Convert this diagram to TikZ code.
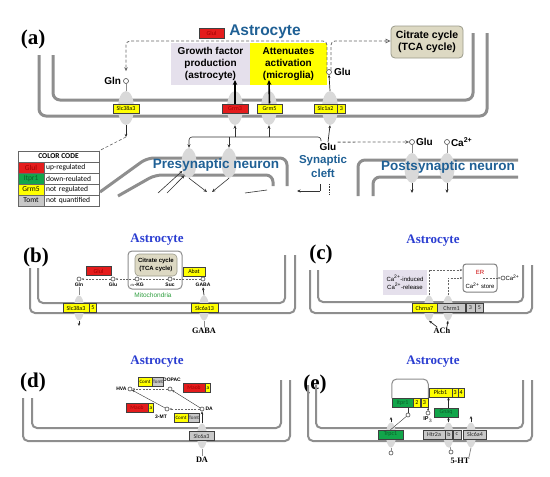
\documentclass[tikz,border=0pt]{standalone}
\usepackage{fontspec}
\setmainfont{Liberation Serif}
\newfontfamily\arialf{Liberation Sans}
\newfontfamily\calib{Carlito}
\usetikzlibrary{shapes.geometric, arrows.meta, positioning, calc}

\definecolor{memgray}{HTML}{8E8E8E}
\definecolor{chgray}{HTML}{D9D9D9}
\definecolor{gred}{HTML}{E41C1C}
\definecolor{gredtxt}{HTML}{9E0000}
\definecolor{ggreen}{HTML}{12A54A}
\definecolor{ggreentxt}{HTML}{0B5E2A}
\definecolor{gyellow}{HTML}{FFFF00}
\definecolor{ggray}{HTML}{C8C8C8}
\definecolor{lavender}{HTML}{E5E0EC}
\definecolor{beige}{HTML}{DDD9C3}
\definecolor{beigeline}{HTML}{9A9A8A}
\definecolor{cellblue}{HTML}{1F6095}
\definecolor{astroblue}{HTML}{2A3DD1}
\definecolor{mitogreen}{HTML}{2E9E3E}

\newcommand{\fsz}[2]{\fontsize{#1}{#2}\selectfont}

\begin{document}
\begin{tikzpicture}[
    x=1pt, y=-1pt,
    memA/.style={draw=memgray, line width=3pt, rounded corners=7pt},
    memB/.style={draw=memgray, line width=2pt, rounded corners=5pt},
    chanA/.style={ellipse, fill=chgray, minimum width=16pt, minimum height=34pt, inner sep=0pt},
    chanP/.style={ellipse, fill=chgray, minimum width=15pt, minimum height=30pt, inner sep=0pt},
    chanB/.style={ellipse, fill=chgray, minimum width=10pt, minimum height=25pt, inner sep=0pt},
    gene/.style={rectangle, draw=black!75, line width=0.5pt, inner sep=0pt, minimum height=9pt, font=\calib\fsz{6}{6}},
    gup/.style={gene, fill=gred, text=gredtxt},
    gdn/.style={gene, fill=ggreen, text=ggreentxt},
    gno/.style={gene, fill=gyellow, text=black},
    gnq/.style={gene, fill=ggray, text=black!85},
    met/.style={circle, draw=black!70, fill=white, line width=0.6pt, inner sep=0pt, minimum size=5pt},
    lblA/.style={font=\arialf\bfseries\fsz{10}{10}, inner sep=1pt},
    mlab/.style={font=\arialf\bfseries\fsz{5}{5}, inner sep=0.5pt},
    small/.style={font=\arialf\fsz{6}{7}, align=center, inner sep=0pt},
    fbox/.style={rectangle, align=center, inner sep=0pt, font=\arialf\bfseries\fsz{10}{12}},
    tcabox/.style={rectangle, rounded corners=4pt, draw=beigeline, fill=beige, line width=0.8pt, align=center, inner sep=0pt},
    plab/.style={font=\bfseries\fsz{21}{21}, inner sep=0pt},
    astro/.style={font=\bfseries\fsz{13}{13}, text=astroblue, inner sep=0pt},
    cell/.style={font=\arialf\bfseries\fsz{13.5}{13.5}, text=cellblue, inner sep=0pt},
    nt/.style={font=\bfseries\fsz{8.3}{8.3}, inner sep=1pt},
    cc/.style={rectangle, draw=black!60, line width=0.6pt, minimum height=11pt, inner sep=0pt, font=\calib\fsz{7.5}{7.5}},
    thkarr/.style={-{Stealth[length=5pt, width=4.5pt]}, line width=1.6pt, black},
    sarr/.style={-{Stealth[length=3pt, width=2.5pt]}, line width=0.7pt, black!85},
    tarr/.style={-{Stealth[length=3.5pt, width=3pt]}, line width=0.6pt, black!80},
    tline/.style={line width=0.6pt, black!80},
    gline/.style={line width=0.8pt, black!45},
    dashA/.style={dashed, dash pattern=on 3pt off 2pt, draw=black!60, line width=0.8pt, rounded corners=4pt, -{Stealth[length=4pt, width=3.5pt]}},
    dashB/.style={dashed, dash pattern=on 2pt off 1.3pt, draw=black!60, line width=0.5pt, -{Stealth[length=2.5pt, width=2pt]}}
]
\useasboundingbox (0,0) rectangle (550,477);

% ================= (a) =================
\node[plab] (lab_a) at (33,39) {(a)};
\draw[memA] (39,55) -- (39,116) -- (487,116) -- (487,33);
\draw[memA] (53,55) -- (53,100) -- (473,100) -- (473,33);
\node[chanA] (ch_gln) at (126,108) {};
\node[chanA] (ch_grm3) at (235,108) {};
\node[chanA] (ch_grm5) at (269,108) {};
\node[chanA] (ch_glt) at (330,108) {};
\node[gno, minimum width=26pt, minimum height=9.5pt] (slc38a3) at (126,108.5) {Slc38a3};
\node[gup, minimum width=26pt, minimum height=9.5pt] (grm3) at (235,108.5) {Grm3};
\node[gno, minimum width=25pt, minimum height=9.5pt] (grm5) at (269.5,108.5) {Grm5};
\node[gno, minimum width=23pt, minimum height=9.5pt] (slc1a2) at (325.5,108.5) {Slc1a2};
\node[gno, minimum width=8pt, minimum height=9.5pt, right=0pt of slc1a2] (slc1a2b) {3};

\node[gup, minimum width=25pt, minimum height=10pt] (glul_a) at (211.5,33) {Glul};
\node[font=\arialf\bfseries\fsz{15.5}{15.5}, text=cellblue, inner sep=0pt] (astro_a) at (265,32) {Astrocyte};
\node[fbox, fill=lavender, minimum width=79pt, minimum height=42pt] (growth) at (210.5,64) {Growth factor\\production\\(astrocyte)};
\node[fbox, fill=gyellow, minimum width=77pt, minimum height=42pt] (atten) at (288.5,64) {Attenuates\\activation\\(microglia)};
\node[tcabox, font=\arialf\bfseries\fsz{10.5}{12.5}, minimum width=72pt, minimum height=32pt] (tca_a) at (427,42) {Citrate cycle\\(TCA cycle)};

\node[met] (gln_a) at (126,81) {};
\node[lblA, left=1pt of gln_a] (gln_a_l) {Gln};
\node[met] (glu_a) at (329,72) {};
\node[lblA, right=1pt of glu_a] (glu_a_l) {Glu};
\coordinate (dtop) at (0,41);
\draw[dashA, shorten >=7pt] (glu_a.north west) -- (glu_a.north west |- dtop) -- (gln_a |- dtop) -- (gln_a.north);
\draw[dashA, -{Triangle[open, length=5pt, width=4.5pt]}] (glu_a.north east) -- (glu_a.north east |- dtop) -- (tca_a.west |- dtop);

\coordinate (gf_in) at (235,80);
\coordinate (at_in) at (269,80);
\draw[thkarr] (grm3.north) -- (gf_in);
\draw[thkarr] (grm5.north) -- (at_in);
\draw[gline] (gln_a.south) -- (ch_gln.north);
\draw[sarr] (ch_glt.north) -- (glu_a.south);

% below the astrocyte
\coordinate (gln_out) at (126,137);
\draw[sarr] (ch_gln.south) -- (gln_out);

% colour code
\node[cc, minimum width=81pt, font=\calib\bfseries\fsz{7.5}{7.5}] (cc_head) at (58.5,156.5) {COLOR CODE};
\node[cc, fill=gred, text=gredtxt, minimum width=26pt] (cc_g1) at (31,167.5) {Glul};
\node[cc, minimum width=55pt, right=0pt of cc_g1, inner xsep=1.5pt, align=left, text width=52pt] (cc_t1) {up-regulated};
\node[cc, fill=ggreen, text=ggreentxt, minimum width=26pt] (cc_g2) at (31,178.5) {Itpr1};
\node[cc, minimum width=55pt, right=0pt of cc_g2, inner xsep=1.5pt, align=left, text width=52pt] (cc_t2) {down-reulated};
\node[cc, fill=gyellow, minimum width=26pt] (cc_g3) at (31,189.5) {Grm5};
\node[cc, minimum width=55pt, right=0pt of cc_g3, inner xsep=1.5pt, align=left, text width=52pt] (cc_t3) {not regulated};
\node[cc, fill=ggray, minimum width=26pt] (cc_g4) at (31,200.5) {Tomt};
\node[cc, minimum width=55pt, right=0pt of cc_g4, inner xsep=1.5pt, align=left, text width=52pt] (cc_t4) {not quantified};
\draw[tline, densely dashed, black!60] (gln_out) -- (cc_head.north east);

% presynaptic neuron
\draw[memA] (100,192) -- (147,158) -- (287,158) -- (287,186);
\draw[memA] (118,196) -- (155,175) -- (273,175) -- (273,186);
\node[chanP] (ch_pre1) at (189,163) {};
\node[chanP] (ch_pre2) at (229,163) {};
\node[cell] (pre) at (216,165) {Presynaptic neuron};

\node[lblA] (glu_s) at (328,147) {Glu};
\node[font=\arialf\bfseries\fsz{11.5}{14}, text=cellblue, align=center, inner sep=0pt] (cleft) at (323,166.5) {Synaptic\\cleft};
\draw[sarr] (glu_s.north) -- (ch_glt.south);
\coordinate (br1) at (321,141);
\coordinate (br) at (0,137);
\coordinate (br2) at (229,137);
\coordinate (br3) at (235,137);
\coordinate (br4) at (269,137);
\draw[tarr, rounded corners=3pt] (br1) |- (ch_pre1.north |- br) -- (ch_pre1.north);
\draw[tarr] (br2) -- (ch_pre2.north);
\draw[tarr] (br3) -- (ch_grm3.south);
\draw[tarr] (br4) -- (ch_grm5.south);

\coordinate (pre_o1) at (207,192);
\coordinate (pre_o2) at (212,192);
\draw[tarr] (ch_pre1.south) -- (pre_o1);
\draw[tarr] (ch_pre2.south) -- (pre_o2);
\coordinate (in1) at (158,193);
\coordinate (in2) at (167,193);
\draw[tarr] (in1) -- (ch_pre1.-130);
\draw[tarr] (in2) -- (ch_pre1.-110);
\coordinate (pre_s1) at (245,193);
\coordinate (pre_s2) at (267,190);
\draw[tline] (pre_s1) -- (pre_s2);
\coordinate (cl_a) at (320,191);
\coordinate (cl_b) at (297,191);
\coordinate (cl_c) at (320,184);
\coordinate (cl_d) at (329,184);
\coordinate (cl_e) at (329,195);
\draw[tarr] (cl_a) -- (cl_b);
\draw[tline] (cl_a) -- (cl_c);
\draw[tline, densely dotted] (cl_d) -- (cl_e);

% postsynaptic neuron
\draw[memA] (358,196) -- (358,160) -- (518,160);
\draw[memA] (373,196) -- (373,177) -- (518,177);
\node[chanP] (ch_post1) at (412,168) {};
\node[chanP] (ch_post2) at (447,168) {};
\node[cell] (post) at (448,167) {Postsynaptic neuron};
\node[met] (post_glu) at (412,142) {};
\node[lblA, right=0pt of post_glu] (post_glu_l) {Glu};
\node[met] (post_ca) at (447,142) {};
\node[lblA, right=0pt of post_ca] (post_ca_l) {Ca\textsuperscript{2+}};
\draw[dashA] (glu_s.north east) -- (post_glu.west);
\draw[gline] (post_glu) -- (ch_post1);
\draw[gline] (post_ca) -- (ch_post2);
\coordinate (po1) at (412,193);
\coordinate (po2) at (447,193);
\draw[tarr] (ch_post1.south) -- (po1);
\draw[tarr] (ch_post2.south) -- (po2);

% ================= (b) =================
\node[plab] (lab_b) at (36,257) {(b)};
\node[astro] (astro_b) at (157,240) {Astrocyte};
\draw[memB] (30,268) -- (30,313) -- (295,313) -- (295,255);
\draw[memB] (38,268) -- (38,303) -- (285,303) -- (285,255);
\draw[draw=black!45, line width=1pt, rounded corners=4pt] (128,251) rectangle (182,289);
\node[tcabox, font=\arialf\bfseries\fsz{6}{7.5}, minimum width=42pt, minimum height=22pt, line width=0.6pt] (tca_b) at (156,265) {Citrate cycle\\(TCA cycle)};
\node[font=\arialf\fsz{6.5}{6.5}, text=mitogreen, inner sep=0pt] (mito) at (153,295) {Mitochondria};
\node[gup, minimum width=25pt] (glul_b) at (98.5,271) {Glul};
\node[gno, minimum width=22pt] (abat) at (194,271.5) {Abat};
\node[met, minimum size=4pt] (b_gln) at (79,279) {};
\node[met, minimum size=4pt] (b_glu) at (113,279) {};
\node[met, minimum size=4pt] (b_akg) at (137,279) {};
\node[met, minimum size=4pt] (b_suc) at (170,279) {};
\node[met, minimum size=4pt] (b_gaba) at (203,279) {};
\node[mlab, below=1pt of b_gln] (b_gln_l) {Gln};
\node[mlab, below=1pt of b_glu] (b_glu_l) {Glu};
\node[mlab, below=1pt of b_akg] (b_akg_l) {$\alpha$-KG};
\node[mlab, below=1pt of b_suc] (b_suc_l) {Suc};
\node[mlab, below=1pt of b_gaba] (b_gaba_l) {GABA};
\draw[dashB] (b_gaba) -- (b_suc);
\draw[dashB] (b_suc) -- (b_akg);
\draw[dashB] (b_akg) -- (b_glu);
\draw[dashB] (b_glu) -- (b_gln);
\node[chanB] (ch_b1) at (79,308) {};
\node[chanB] (ch_b2) at (204,308) {};
\node[gno, minimum width=26pt] (slc38a3_b) at (76,308) {Slc38a3};
\node[gno, minimum width=7pt, right=0pt of slc38a3_b] (slc38a5_b) {5};
\node[gno, minimum width=27pt] (slc6a13) at (204.5,308) {Slc6a13};
\draw[gline] (b_gln_l) -- (ch_b1);
\coordinate (b_out) at (79,326);
\draw[sarr] (ch_b1.south) -- (b_out);
\node[nt] (gaba_out) at (204,331) {GABA};
\draw[gline] (gaba_out) -- (ch_b2);
\draw[sarr] (ch_b2.north) -- (b_gaba_l.south);

% ================= (c) =================
\node[plab] (lab_c) at (321,254) {(c)};
\node[astro] (astro_c) at (433,241) {Astrocyte};
\draw[memB] (310,270) -- (310,313) -- (532,313) -- (532,265);
\draw[memB] (318,270) -- (318,302) -- (523,302) -- (523,265);
\node[rectangle, fill=lavender, minimum width=44pt, minimum height=25pt, align=center, inner sep=0pt, font=\arialf\fsz{6}{8}] (cicr) at (405,282.5) {Ca\textsuperscript{2+}-induced\\Ca\textsuperscript{2+}-release};
\node[rectangle, rounded corners=3pt, draw=black!50, line width=1pt, fill=white, minimum width=34pt, minimum height=28pt] (er) at (480,278) {};
\node[small, text=red!80!black] (er_lab) at (480,272) {ER};
\node[small] (er_store) at (480,286) {Ca\textsuperscript{2+} store};
\node[met, minimum size=4pt] (c_ca) at (503,278) {};
\node[small, right=0pt of c_ca] (c_ca_l) {Ca\textsuperscript{2+}};
\coordinate (er_in) at (483,278);
\draw[dashB] (er_in) -- (c_ca);
\node[chanB] (ch_c1) at (429,308) {};
\node[chanB] (ch_c2) at (448,308) {};
\node[gno, minimum width=25pt] (chrna7) at (424.5,308) {Chrna7};
\node[gnq, minimum width=28pt, right=0pt of chrna7] (chrm1) {Chrm1};
\node[gnq, minimum width=9pt, right=0pt of chrm1] (chrm3) {3};
\node[gnq, minimum width=8pt, right=0pt of chrm3] (chrm5) {5};
\draw[dashB] (ch_c1.north) |- ([yshift=8pt]er.west);
\draw[dashB] (ch_c2.north) |- (er.west);
\node[nt] (ach) at (442,331) {ACh};
\draw[sarr] ([xshift=-5pt]ach.north) -- (ch_c1.south);
\draw[sarr] ([xshift=5pt]ach.north) -- (ch_c2.south);

% ================= (d) =================
\node[plab] (lab_d) at (33,382) {(d)};
\node[astro] (astro_d) at (157,362) {Astrocyte};
\draw[memB] (23,398) -- (23,441) -- (290,441) -- (290,380);
\draw[memB] (32,398) -- (32,428) -- (281,428) -- (281,380);
\node[chanB] (ch_d) at (202,436) {};
\node[gnq, minimum width=25pt] (slc6a3) at (201.5,436) {Slc6a3};
\node[nt] (da_out) at (202,460) {DA};
\draw[gline] (da_out) -- (ch_d);
\node[met, minimum size=4pt] (d_da) at (202,409) {};
\node[mlab, right=0.5pt of d_da] (d_da_l) {DA};
\draw[sarr] (ch_d.north) -- (d_da);
\node[met, minimum size=4pt] (d_3mt) at (167,409) {};
\node[mlab] (d_3mt_l) at (161,417) {3-MT};
\node[met, minimum size=4pt] (d_dopac) at (170,389) {};
\node[mlab] (d_dopac_l) at (172,380) {DOPAC};
\node[met, minimum size=4pt] (d_hva) at (130,389) {};
\node[mlab, left=0.5pt of d_hva] (d_hva_l) {HVA};
\draw[dashB] (d_da) -- (d_3mt);
\draw[tarr, -{Stealth[length=2.5pt, width=2pt]}, line width=0.4pt] (d_da) -- (d_dopac);
\draw[dashB] (d_dopac) -- (d_hva);
\draw[tarr, -{Stealth[length=2.5pt, width=2pt]}, line width=0.4pt] (d_3mt) -- (d_hva);
\node[gno, minimum width=14pt, font=\calib\fsz{5}{5}] (comt1) at (145,382) {Comt};
\node[gnq, minimum width=11pt, font=\calib\fsz{5}{5}, right=0pt of comt1] (tomt1) {Tomt};
\node[gno, minimum width=14pt, font=\calib\fsz{5}{5}] (comt2) at (181,417.5) {Comt};
\node[gnq, minimum width=11pt, font=\calib\fsz{5}{5}, right=0pt of comt2] (tomt2) {Tomt};
\node[gup, minimum width=22pt, font=\calib\fsz{5.5}{5.5}] (maob1) at (194,388) {Maob};
\node[gno, minimum width=5pt, font=\calib\fsz{5.5}{5.5}, right=0pt of maob1] (maoa1) {a};
\node[gup, minimum width=22pt, font=\calib\fsz{5.5}{5.5}] (maob2) at (137,408) {Maob};
\node[gno, minimum width=5pt, font=\calib\fsz{5.5}{5.5}, right=0pt of maob2] (maoa2) {a};

% ================= (e) =================
\node[plab] (lab_e) at (315,384) {(e)};
\node[astro] (astro_e) at (433,362) {Astrocyte};
\draw[memB] (308,385) -- (308,441) -- (532,441) -- (532,380);
\draw[memB] (316,385) -- (316,428) -- (523,428) -- (523,380);
\node[chanB] (ch_e1) at (391,435) {};
\node[chanB] (ch_e2) at (448.5,435) {};
\node[chanB] (ch_e3) at (471,435) {};
\node[gdn, minimum width=25pt] (trpc1) at (390.5,434.5) {Trpc1};
\node[gnq, minimum width=22pt] (htr2a) at (434,434.5) {Htr2a};
\node[gnq, minimum width=7pt, right=0pt of htr2a] (htr2b) {b};
\node[gnq, minimum width=8pt, right=0pt of htr2b] (htr2c) {c};
\node[gnq, minimum width=23pt, right=2pt of htr2c] (slc6a4) {Slc6a4};
\node[gdn, minimum width=24pt] (gnaq) at (446,412.5) {Gnaq};
\node[gno, minimum width=23pt] (plcb1) at (440.5,392.5) {Plcb1};
\node[gno, minimum width=5.5pt, right=0pt of plcb1] (plcb3) {3};
\node[gno, minimum width=5.5pt, right=0pt of plcb3] (plcb4) {4};
\node[gdn, minimum width=21pt] (itpr1) at (402.5,403) {Itpr1};
\node[gno, minimum width=7pt, right=0pt of itpr1] (itpr2) {2};
\node[gno, minimum width=7pt, right=0pt of itpr2] (itpr3) {3};
\draw[sarr] (ch_e2.north) -- (gnaq.south -| ch_e2);
\draw[sarr] (gnaq.north -| ch_e2) -- (plcb1.south -| ch_e2);
\coordinate (loop_top) at (0,379);
\draw[gline, line width=1pt, rounded corners=5pt] (itpr1.north west) -- (itpr1.north west |- loop_top) -- (itpr3.north east |- loop_top) -- (itpr3.north east);
\node[met, minimum size=4pt] (e_ip3) at (428,413) {};
\node[font=\arialf\bfseries\fsz{5.5}{5.5}, inner sep=0pt, below=1.5pt of e_ip3] (e_ip3_l) {IP$_3$};
\draw[tline, line width=0.4pt] (plcb1.south west) -- (e_ip3);
\draw[tarr, -{Stealth[length=2.5pt, width=2pt]}, line width=0.4pt] (e_ip3) -- (itpr3.south east);
\node[met, minimum size=4pt] (e_it) at (408,415) {};
\draw[tline, line width=0.4pt] (itpr1.south -| e_it) -- (e_it);
\draw[tline, line width=0.4pt] (e_it) -- (trpc1.north);
\coordinate (e1_top) at (391,417);
\coordinate (e3_top) at (471,416);
\draw[sarr] (ch_e1.north) -- (e1_top);
\draw[sarr] (ch_e3.north) -- (e3_top);
\node[met, minimum size=4pt] (e_c1) at (391,453) {};
\draw[gline] (ch_e1) -- (e_c1);
\node[met, minimum size=4pt] (e_c2) at (451,452) {};
\node[nt] (ht) at (460,461) {5-HT};
\draw[gline] (e_c2) -- (ch_e2);
\draw[gline] ([xshift=9pt]ht.north) -- (ch_e3.south);

\end{tikzpicture}
\end{document}
